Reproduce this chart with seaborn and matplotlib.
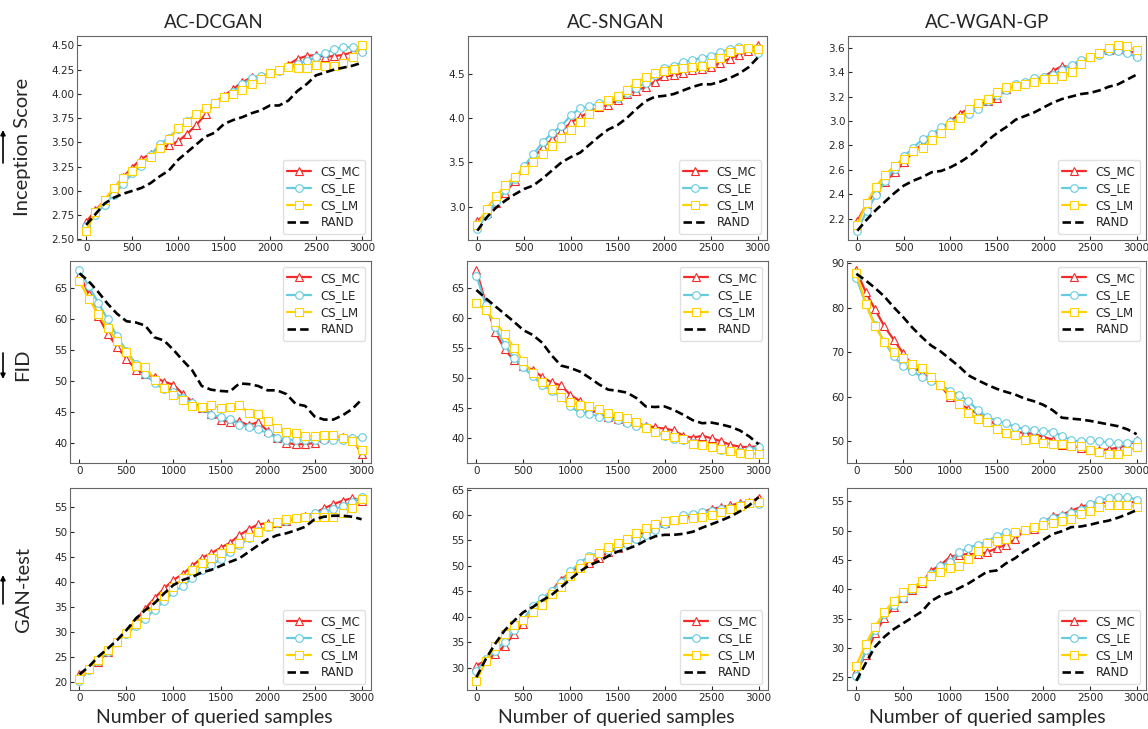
import numpy as np
import pandas as pd
import matplotlib
matplotlib.use('Agg')
import matplotlib.pyplot as plt
import seaborn as sns

QUERIED = list(range(0, 3001, 100))
MODELS = ['AC-DCGAN', 'AC-SNGAN', 'AC-WGAN-GP']
METRICS = ['Inception Score', 'FID', 'GAN-test']
METHODS = ['CS_MC', 'CS_LE', 'CS_LM', 'RAND']

# Inception Score
IS_DCGAN_MC = [2.68, 2.80, 2.90, 3.02, 3.14, 3.24, 3.33, 3.38, 3.45, 3.47, 3.51, 3.59, 3.68, 3.79, 3.91, 3.98,
               4.05, 4.12, 4.17, 4.18, 4.21, 4.25, 4.30, 4.36, 4.39, 4.40, 4.38, 4.39, 4.40, 4.43, 4.46]
IS_DCGAN_LE = [2.64, 2.75, 2.86, 2.96, 3.07, 3.18, 3.26, 3.37, 3.48, 3.55, 3.64, 3.72, 3.79, 3.85, 3.91, 3.97,
               4.02, 4.10, 4.16, 4.18, 4.21, 4.24, 4.28, 4.31, 4.34, 4.38, 4.42, 4.46, 4.48, 4.48, 4.43]
IS_DCGAN_LM = [2.59, 2.78, 2.91, 3.03, 3.13, 3.21, 3.29, 3.35, 3.44, 3.53, 3.65, 3.71, 3.79, 3.85, 3.91, 3.97,
               4.00, 4.04, 4.10, 4.15, 4.21, 4.25, 4.28, 4.27, 4.27, 4.30, 4.29, 4.29, 4.32, 4.38, 4.50]
IS_DCGAN_RAND = [2.65, 2.76, 2.87, 2.93, 2.97, 3.00, 3.03, 3.08, 3.15, 3.21, 3.32, 3.40, 3.48, 3.56, 3.60, 3.69,
                 3.73, 3.76, 3.80, 3.83, 3.88, 3.88, 3.93, 4.03, 4.10, 4.19, 4.22, 4.25, 4.27, 4.29, 4.32]

IS_SNGAN_MC = [2.84, 2.93, 3.04, 3.16, 3.29, 3.43, 3.55, 3.67, 3.76, 3.85, 3.95, 4.01, 4.07, 4.12, 4.15, 4.20,
               4.27, 4.31, 4.35, 4.41, 4.47, 4.48, 4.51, 4.54, 4.55, 4.58, 4.62, 4.67, 4.71, 4.76, 4.82]
IS_SNGAN_LE = [2.75, 2.91, 3.05, 3.19, 3.31, 3.46, 3.59, 3.73, 3.83, 3.91, 4.03, 4.11, 4.13, 4.17, 4.19, 4.23,
               4.28, 4.34, 4.40, 4.48, 4.56, 4.59, 4.63, 4.65, 4.68, 4.70, 4.74, 4.78, 4.80, 4.79, 4.73]
IS_SNGAN_LM = [2.79, 2.98, 3.12, 3.24, 3.34, 3.42, 3.51, 3.60, 3.69, 3.78, 3.87, 3.96, 4.04, 4.13, 4.20, 4.25,
               4.32, 4.40, 4.46, 4.51, 4.53, 4.55, 4.56, 4.57, 4.59, 4.62, 4.68, 4.74, 4.78, 4.79, 4.78]
IS_SNGAN_RAND = [2.73, 2.88, 2.99, 3.07, 3.14, 3.20, 3.24, 3.32, 3.41, 3.50, 3.56, 3.61, 3.70, 3.79, 3.87, 3.92,
                 4.00, 4.10, 4.19, 4.24, 4.25, 4.27, 4.31, 4.35, 4.38, 4.38, 4.41, 4.45, 4.50, 4.57, 4.68]

IS_WGAN_MC = [2.18, 2.32, 2.43, 2.50, 2.58, 2.66, 2.75, 2.81, 2.87, 2.93, 3.00, 3.06, 3.10, 3.13, 3.16, 3.19,
              3.26, 3.30, 3.31, 3.33, 3.36, 3.41, 3.45, 3.44, 3.49, 3.52, 3.56, 3.58, 3.59, 3.58, 3.55]
IS_WGAN_LE = [2.10, 2.26, 2.39, 2.51, 2.61, 2.71, 2.78, 2.85, 2.89, 2.95, 2.99, 3.02, 3.06, 3.10, 3.16, 3.21,
              3.25, 3.30, 3.32, 3.35, 3.36, 3.38, 3.42, 3.46, 3.50, 3.52, 3.54, 3.57, 3.57, 3.56, 3.52]
IS_WGAN_LM = [2.15, 2.33, 2.46, 2.56, 2.63, 2.69, 2.75, 2.78, 2.84, 2.90, 2.97, 3.02, 3.10, 3.15, 3.18, 3.24,
              3.28, 3.29, 3.30, 3.32, 3.34, 3.34, 3.37, 3.40, 3.47, 3.52, 3.56, 3.60, 3.62, 3.61, 3.58]
IS_WGAN_RAND = [2.10, 2.19, 2.27, 2.34, 2.41, 2.47, 2.51, 2.54, 2.58, 2.59, 2.62, 2.66, 2.71, 2.77, 2.84, 2.90,
                2.95, 3.01, 3.04, 3.07, 3.11, 3.15, 3.18, 3.20, 3.22, 3.23, 3.25, 3.28, 3.30, 3.34, 3.38]

# FID
FID_DCGAN_MC = [67.1, 64.0, 60.4, 57.6, 55.5, 53.6, 51.8, 51.2, 50.6, 49.9, 49.4, 47.9, 46.7, 45.6, 44.7, 43.8,
                43.4, 43.5, 42.9, 43.4, 42.0, 40.9, 40.1, 39.8, 39.9, 40.0, 40.8, 41.1, 41.0, 40.8, 38.3]
FID_DCGAN_LE = [67.8, 65.2, 62.6, 59.9, 57.2, 54.8, 52.8, 51.1, 49.6, 48.7, 48.3, 47.3, 46.4, 45.6, 44.6, 44.2,
                43.9, 43.0, 42.6, 42.3, 41.6, 40.9, 40.6, 40.5, 40.5, 40.6, 40.5, 40.5, 40.6, 40.8, 41.0]
FID_DCGAN_LM = [66.0, 63.2, 60.8, 58.5, 56.5, 54.7, 52.4, 52.3, 50.2, 48.8, 47.8, 46.9, 46.0, 45.8, 46.1, 45.7,
                45.9, 46.2, 44.8, 44.7, 43.6, 42.5, 41.8, 41.6, 41.2, 41.1, 41.3, 41.3, 40.9, 40.3, 38.9]
FID_DCGAN_RAND = [67.3, 66.0, 64.3, 62.4, 60.8, 59.6, 59.4, 58.9, 57.0, 56.5, 55.0, 53.3, 51.7, 49.2, 48.6, 48.4,
                  48.3, 49.6, 49.5, 49.2, 48.5, 48.5, 47.9, 46.3, 46.0, 44.3, 43.8, 43.8, 44.5, 45.5, 47.0]

FID_SNGAN_MC = [68.0, 62.5, 57.7, 54.8, 53.0, 52.0, 51.4, 50.2, 49.3, 48.8, 47.2, 46.2, 45.0, 44.0, 43.5, 43.2,
                42.8, 42.5, 42.1, 41.8, 41.6, 41.3, 40.4, 40.1, 40.4, 40.0, 39.5, 38.9, 38.6, 38.5, 38.7]
FID_SNGAN_LE = [67.1, 62.2, 58.5, 55.6, 53.4, 51.8, 50.3, 48.9, 47.9, 46.8, 45.3, 44.2, 44.1, 43.6, 43.3, 43.0,
                42.5, 42.1, 41.8, 41.1, 40.3, 39.9, 39.7, 39.2, 38.9, 38.6, 38.1, 37.8, 37.7, 38.0, 38.6]
FID_SNGAN_LM = [62.5, 61.3, 59.4, 57.3, 55.1, 52.8, 50.8, 49.3, 48.2, 46.9, 46.0, 45.5, 45.3, 44.8, 44.2, 43.7,
                43.3, 42.7, 41.7, 41.0, 40.6, 40.2, 39.8, 39.1, 38.8, 38.6, 38.2, 37.8, 37.6, 37.4, 37.4]
FID_SNGAN_RAND = [64.7, 63.3, 62.0, 60.7, 59.4, 58.0, 57.2, 55.9, 53.8, 52.1, 51.7, 51.1, 50.1, 49.0, 48.1, 47.9,
                  47.6, 46.7, 45.3, 45.2, 45.3, 44.7, 43.9, 43.0, 42.5, 42.6, 42.3, 41.9, 41.3, 40.3, 39.0]

FID_WGAN_MC = [88.4, 83.5, 79.6, 75.8, 72.8, 69.8, 67.0, 65.3, 64.1, 62.6, 59.9, 58.4, 57.3, 56.2, 55.1, 53.6,
               51.9, 52.1, 51.9, 51.7, 51.0, 50.4, 49.1, 48.9, 48.6, 48.1, 48.0, 48.2, 48.6, 49.1, 50.2]
FID_WGAN_LE = [86.7, 80.9, 76.2, 72.3, 69.1, 66.9, 65.8, 64.4, 63.5, 62.6, 61.4, 60.4, 59.0, 57.0, 55.5, 54.6,
               54.1, 53.2, 52.8, 52.6, 52.3, 52.2, 51.3, 50.2, 50.0, 50.2, 50.0, 49.8, 49.6, 49.7, 50.0]
FID_WGAN_LM = [87.8, 80.9, 75.8, 72.3, 70.0, 68.8, 67.4, 66.4, 64.4, 62.7, 60.5, 58.4, 56.4, 54.9, 54.3, 52.8,
               51.9, 51.5, 50.2, 50.5, 49.6, 49.4, 49.5, 48.9, 48.9, 48.1, 47.6, 47.2, 47.2, 47.8, 48.7]
FID_WGAN_RAND = [87.6, 86.1, 84.4, 82.5, 80.1, 77.9, 75.5, 73.4, 71.5, 70.2, 68.5, 66.8, 64.8, 63.7, 62.7, 61.8,
                 61.1, 60.5, 59.6, 59.0, 58.2, 57.0, 55.3, 55.1, 54.9, 54.6, 54.2, 53.8, 53.4, 52.7, 51.6]

# GAN-test
GT_DCGAN_MC = [21.6, 22.7, 24.1, 26.1, 28.1, 30.0, 32.4, 34.7, 36.8, 38.7, 40.4, 41.6, 43.2, 44.8, 45.7, 46.8,
               47.8, 49.3, 50.5, 51.5, 51.7, 51.7, 52.2, 52.7, 53.1, 53.7, 54.7, 55.5, 56.2, 56.7, 56.2]
GT_DCGAN_LE = [20.3, 22.4, 24.3, 26.1, 28.1, 29.7, 31.2, 32.7, 34.5, 36.2, 38.0, 39.2, 40.7, 42.4, 43.4, 44.5,
               45.9, 47.3, 48.7, 50.1, 51.0, 51.7, 52.2, 52.7, 53.0, 53.7, 54.0, 54.5, 55.1, 56.0, 56.9]
GT_DCGAN_LM = [20.6, 22.6, 24.5, 26.4, 28.1, 29.9, 31.6, 33.6, 35.5, 37.2, 39.0, 40.7, 42.4, 43.7, 44.7, 45.7,
               46.7, 47.8, 49.0, 50.0, 51.1, 52.0, 52.5, 52.8, 53.0, 53.0, 52.9, 52.9, 53.7, 54.7, 56.5]
GT_DCGAN_RAND = [21.6, 23.1, 25.1, 26.7, 28.4, 30.4, 32.7, 34.4, 35.8, 37.7, 39.4, 40.4, 41.0, 41.9, 42.4, 43.2,
                 44.0, 44.7, 46.0, 47.3, 48.5, 49.3, 49.7, 50.3, 51.0, 52.5, 53.0, 53.2, 53.2, 53.0, 52.5]

GT_SNGAN_MC = [30.4, 31.4, 32.7, 34.3, 36.6, 38.6, 41.5, 43.5, 45.1, 47.3, 48.7, 49.9, 50.5, 51.5, 52.7, 53.5,
               54.6, 55.8, 56.9, 57.8, 58.4, 59.1, 59.4, 59.9, 60.5, 61.2, 61.5, 61.9, 62.3, 62.6, 63.3]
GT_SNGAN_LE = [29.3, 31.7, 33.2, 35.1, 37.3, 39.4, 42.1, 43.6, 45.1, 46.8, 48.9, 50.6, 52.0, 52.5, 53.1, 53.5,
               54.3, 55.2, 56.1, 57.1, 58.3, 59.1, 59.9, 60.1, 60.5, 60.7, 61.1, 61.3, 61.9, 62.3, 62.2]
GT_SNGAN_LM = [27.4, 31.3, 34.3, 36.6, 38.3, 39.4, 40.9, 42.3, 44.5, 45.9, 48.0, 49.5, 51.5, 52.5, 53.7, 54.5,
               55.3, 56.4, 57.4, 58.3, 58.9, 59.1, 59.2, 59.4, 59.6, 60.0, 60.5, 61.1, 61.7, 62.3, 62.5]
GT_SNGAN_RAND = [28.1, 31.7, 34.7, 37.3, 39.2, 40.9, 41.9, 43.2, 44.3, 45.8, 47.4, 48.9, 50.1, 50.9, 51.9, 52.8,
                 53.3, 54.0, 55.0, 55.8, 56.1, 56.1, 56.3, 56.7, 57.5, 58.2, 58.9, 59.7, 60.7, 61.9, 63.5]

GT_WGAN_MC = [26.0, 28.8, 32.5, 35.1, 36.9, 38.5, 39.8, 41.0, 43.2, 44.1, 45.5, 45.9, 46.0, 46.0, 46.3, 47.0,
              47.6, 48.5, 50.1, 50.3, 51.3, 52.5, 52.7, 53.4, 54.0, 54.5, 54.7, 54.8, 54.8, 54.8, 54.9]
GT_WGAN_LE = [25.2, 29.7, 33.1, 35.8, 37.3, 38.6, 40.0, 41.4, 42.6, 43.9, 44.7, 46.3, 47.1, 47.6, 48.1, 49.1,
              49.7, 49.8, 50.1, 50.6, 51.6, 52.2, 52.5, 53.0, 53.5, 54.5, 55.2, 55.5, 55.7, 55.7, 55.3]
GT_WGAN_LM = [27.0, 30.7, 33.6, 36.1, 38.0, 39.5, 40.2, 41.4, 42.2, 43.0, 43.6, 44.0, 45.1, 46.5, 47.9, 48.2,
              48.6, 49.7, 50.1, 50.6, 51.0, 51.3, 51.6, 52.0, 52.8, 53.4, 54.0, 54.3, 54.4, 54.4, 54.0]
GT_WGAN_RAND = [24.4, 27.4, 30.2, 31.9, 33.2, 34.2, 35.2, 36.2, 38.0, 38.9, 39.4, 40.2, 41.0, 42.0, 43.0, 43.2,
                44.4, 45.3, 46.5, 47.4, 48.4, 49.4, 49.9, 50.6, 50.7, 51.0, 51.4, 51.7, 52.2, 52.8, 53.5]

PANELS = [
    [(IS_DCGAN_MC, IS_DCGAN_LE, IS_DCGAN_LM, IS_DCGAN_RAND),
     (IS_SNGAN_MC, IS_SNGAN_LE, IS_SNGAN_LM, IS_SNGAN_RAND),
     (IS_WGAN_MC, IS_WGAN_LE, IS_WGAN_LM, IS_WGAN_RAND)],
    [(FID_DCGAN_MC, FID_DCGAN_LE, FID_DCGAN_LM, FID_DCGAN_RAND),
     (FID_SNGAN_MC, FID_SNGAN_LE, FID_SNGAN_LM, FID_SNGAN_RAND),
     (FID_WGAN_MC, FID_WGAN_LE, FID_WGAN_LM, FID_WGAN_RAND)],
    [(GT_DCGAN_MC, GT_DCGAN_LE, GT_DCGAN_LM, GT_DCGAN_RAND),
     (GT_SNGAN_MC, GT_SNGAN_LE, GT_SNGAN_LM, GT_SNGAN_RAND),
     (GT_WGAN_MC, GT_WGAN_LE, GT_WGAN_LM, GT_WGAN_RAND)],
]

COLORS = {'CS_MC': '#f22a2a', 'CS_LE': '#66cbdf', 'CS_LM': '#ffd200', 'RAND': 'black'}
MARKERS = {'CS_MC': '^', 'CS_LE': 'o', 'CS_LM': 's', 'RAND': None}
LEGEND_LOC = ['lower right', 'upper right', 'lower right']

sns.set_style('white', {'axes.edgecolor': '0.4', 'xtick.direction': 'in', 'ytick.direction': 'in',
                        'xtick.bottom': True, 'ytick.left': True})
plt.rcParams['font.family'] = ['DejaVu Sans']
LABEL_FONT = ['Lato', 'DejaVu Sans']

W, H = 1148, 729
fig = plt.figure(figsize=(W / 100, H / 100), dpi=100)

# axes boxes in pixels
ROW_Y = [(36, 240), (261, 463), (488, 690)]
COL_X = [[(77, 371), (468, 767), (848, 1146)],
         [(70, 371), (467, 768), (847, 1146)],
         [(70, 371), (467, 768), (847, 1146)]]

for r in range(3):
    for c in range(3):
        x0, x1 = COL_X[r][c]
        y0, y1 = ROW_Y[r]
        ax = fig.add_axes([x0 / W, 1 - y1 / H, (x1 - x0) / W, (y1 - y0) / H])
        for method, vals in zip(METHODS, PANELS[r][c]):
            df = pd.DataFrame({'queried': QUERIED, 'value': vals})
            if method == 'RAND':
                sns.lineplot(data=df, x='queried', y='value', ax=ax, color='black', lw=1.9,
                             linestyle=(0, (3.2, 1.6)), label=method)
            else:
                sns.lineplot(data=df, x='queried', y='value', ax=ax, color=COLORS[method], lw=1.6,
                             marker=MARKERS[method], markersize=5.5, markerfacecolor='white',
                             markeredgecolor=COLORS[method], markeredgewidth=0.8, label=method)
        ax.set_xlim(-100, 3100)
        ax.set_xticks(range(0, 3001, 500))
        ax.set_xlabel('')
        ax.set_ylabel('')
        ax.tick_params(labelsize=7.5, length=3, width=0.8, pad=2, colors='0.15')
        ax.legend(loc=LEGEND_LOC[r], fontsize=8.5, frameon=True, edgecolor='0.85',
                  borderpad=0.4, labelspacing=0.35, handlelength=2.0)

TITLE_X = [214, 616, 987]
for c in range(3):
    fig.text(TITLE_X[c] / W, 1 - 22 / H, MODELS[c], ha='center', va='center', fontsize=13.5, family=LABEL_FONT)
    fig.text(TITLE_X[c] / W, 1 - 718 / H, 'Number of queried samples', ha='center', va='center',
             fontsize=14, family=LABEL_FONT)

YLAB_Y = [147, 365, 589]
ARROWS = [(163, 130), (353, 379), (604, 575)]
for r in range(3):
    fig.text(23 / W, 1 - YLAB_Y[r] / H, METRICS[r], ha='center', va='center', rotation=90,
             fontsize=14.5, family=LABEL_FONT)
    a0, a1 = ARROWS[r]
    fig.add_artist(plt.Annotation('', xy=(3, H - a1), xytext=(3, H - a0), xycoords='figure pixels',
                                  textcoords='figure pixels',
                                  arrowprops=dict(arrowstyle='-|>', lw=1.2, color='black',
                                                  mutation_scale=7, shrinkA=0, shrinkB=0)))

fig.savefig('out.png', dpi=100)
